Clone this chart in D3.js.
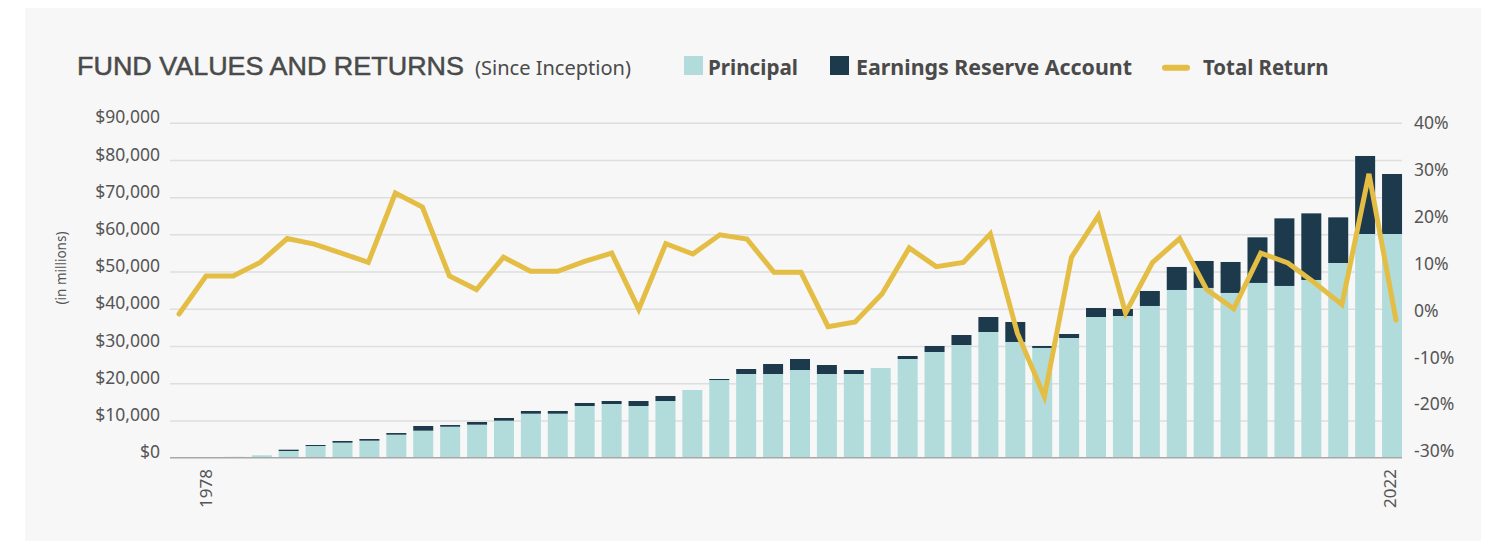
<!DOCTYPE html>
<html>
<head>
<meta charset="utf-8">
<script src="https://cdn.jsdelivr.net/npm/d3@7"></script>
<style>
  html, body { margin: 0; padding: 0; background: #ffffff; }
  svg { display: block; }
</style>
</head>
<body>
<svg id="chart" width="1492" height="541"></svg>
<script>
// ---------- DATA ----------
const years = d3.range(1978, 2023);           // bar categories
const principal = [150, 250, 650, 1800, 3140, 4040, 4570, 6180, 7260, 8330,
  8870, 9940, 11820, 11820, 13890, 14430, 13890, 15230, 18190, 20870,
  22490, 22490, 23560, 22490, 22490, 24100, 26520, 28400, 30280, 33770,
  31090, 29480, 32160, 37800, 38070, 40760, 45060, 45600, 44260, 46950,
  46140, 47750, 52310, 60100, 60100];
const earningsReserve = [0, 0, 0, 350, 270, 450, 450, 450, 1260, 450,
  720, 730, 730, 730, 810, 800, 1340, 1350, 0, 270,
  1340, 2680, 2960, 2410, 1070, 0, 800, 1610, 2680, 4030,
  5370, 530, 1070, 2420, 1880, 4030, 6180, 7250, 8320, 12250,
  18160, 17890, 12260, 20960, 16120];
const returnYears = d3.range(1977, 2023);
const totalReturn = [-0.2, 7.9, 7.9, 10.8, 15.9, 14.7, 12.8, 10.8, 25.6, 22.6,
  7.9, 5.0, 11.9, 8.9, 8.9, 11.0, 12.8, 0.8, 14.8, 12.6,
  16.7, 15.8, 8.7, 8.7, -2.9, -1.9, 4.1, 13.9, 9.9, 10.8,
  16.9, -4.3, -17.8, 11.9, 20.8, 0.0, 10.8, 15.9, 5.0, 0.9,
  12.8, 10.7, 6.4, 1.8, 29.7, -1.5];
const leftTicks = [0, 10000, 20000, 30000, 40000, 50000, 60000, 70000, 80000, 90000];
const rightTicks = [-30, -20, -10, 0, 10, 20, 30, 40];
const xLabels = [1978, 2022];
const seriesNames = ["Principal", "Earnings Reserve Account", "Total Return"];

// ---------- STYLE ----------
const C_PRINCIPAL = "#b2dcdb";
const C_ERA = "#1d3a4d";
const C_LINE = "#e4bd45";
const C_TEXT = "#4a4a4a";
const C_TICK = "#555555";

const svg = d3.select("#chart");

// panel background
svg.append("rect").attr("x", 25).attr("y", 8).attr("width", 1456).attr("height", 540)
  .attr("fill", "#f7f7f7");

// ---------- SCALES ----------
const plotLeft = 170, plotRight = 1402;
const yL = d3.scaleLinear().domain([0, 90000]).range([457.7, 122.7]);
const yR = d3.scaleLinear().domain([-30, 40]).range([453.6, 125.6]);
const x = d3.scaleBand().domain(years).range([194.5, 1405.5])
  .paddingInner(0.257).paddingOuter(0.1285);
const xLine = d3.scalePoint().domain(returnYears).range([179, 1396]);

// ---------- GRID (via axis) ----------
const grid = svg.append("g").attr("transform", `translate(${plotLeft},0)`)
  .call(d3.axisLeft(yL).tickValues(leftTicks.filter(d => d > 0))
    .tickSize(-(plotRight - plotLeft)).tickFormat(""));
grid.select(".domain").remove();
grid.selectAll(".tick line").attr("stroke", "#dedede").attr("stroke-width", 1.5);

// ---------- BARS ----------
const stackData = years.map((yr, i) => ({ year: yr, principal: principal[i], era: earningsReserve[i] }));
const stacked = d3.stack().keys(["principal", "era"])(stackData);
const colors = { principal: C_PRINCIPAL, era: C_ERA };
svg.append("g").selectAll("g").data(stacked).join("g")
  .attr("fill", d => colors[d.key])
  .selectAll("rect").data(d => d).join("rect")
  .attr("x", d => x(d.data.year))
  .attr("width", x.bandwidth())
  .attr("y", d => yL(d[1]))
  .attr("height", d => Math.max(0, yL(d[0]) - yL(d[1])));

// baseline
svg.append("line").attr("x1", plotLeft).attr("x2", plotRight)
  .attr("y1", yL(0)).attr("y2", yL(0))
  .attr("stroke", "#a8a8a8").attr("stroke-width", 1.5);

// ---------- LINE ----------
const line = d3.line().x((d, i) => xLine(returnYears[i])).y(d => yR(d));
svg.append("path").datum(totalReturn)
  .attr("d", line).attr("fill", "none")
  .attr("stroke", C_LINE).attr("stroke-width", 5)
  .attr("stroke-linejoin", "miter").attr("stroke-linecap", "round");

// ---------- AXES LABELS ----------
const fmtDollar = d => "$" + d3.format(",")(d);
const leftAxis = svg.append("g").attr("transform", `translate(${plotLeft},0)`)
  .call(d3.axisLeft(yL).tickValues(leftTicks).tickFormat(fmtDollar).tickSize(0).tickPadding(10));
leftAxis.select(".domain").remove();
leftAxis.selectAll("text")
  .attr("font-family", "'Noto Sans', sans-serif").attr("font-size", 17.5)
  .attr("fill", C_TICK).attr("dy", "0.35em").attr("y", -6);

const rightAxis = svg.append("g").attr("transform", `translate(${1414},0)`)
  .call(d3.axisRight(yR).tickValues(rightTicks).tickFormat(d => d + "%").tickSize(0).tickPadding(0));
rightAxis.select(".domain").remove();
rightAxis.selectAll("text")
  .attr("font-family", "'Noto Sans', sans-serif").attr("font-size", 17.5)
  .attr("fill", C_TICK).attr("dy", "0.35em").attr("y", -3);

// x labels
svg.append("g").selectAll("text").data(xLabels).join("text")
  .attr("transform", d => `translate(${x(d) + x.bandwidth() / 2 - 2},469) rotate(-90)`)
  .attr("text-anchor", "end").attr("dy", "0.35em")
  .attr("font-family", "'Noto Sans', sans-serif").attr("font-size", 17)
  .attr("fill", C_TICK).text(d => d);

// (in millions)
svg.append("text").attr("transform", "translate(61,268) rotate(-90)")
  .attr("text-anchor", "middle").attr("dy", "0.35em")
  .attr("font-family", "'Noto Sans', sans-serif").attr("font-size", 13.5)
  .attr("fill", C_TICK).text("(in millions)");

// ---------- TITLE ----------
svg.append("text").attr("x", 77).attr("y", 75)
  .attr("font-family", "'Liberation Sans', Arial, sans-serif").attr("font-size", 26.5)
  .attr("fill", C_TEXT).attr("stroke", C_TEXT).attr("stroke-width", 0.5)
  .attr("textLength", 387).attr("lengthAdjust", "spacingAndGlyphs")
  .text("FUND VALUES AND RETURNS");
svg.append("text").attr("x", 475).attr("y", 75)
  .attr("font-family", "'Noto Sans', sans-serif").attr("font-size", 19.5)
  .attr("fill", C_TEXT).attr("textLength", 156).attr("lengthAdjust", "spacingAndGlyphs")
  .text("(Since Inception)");

// ---------- LEGEND ----------
const legend = svg.append("g");
legend.append("rect").attr("x", 684).attr("y", 56).attr("width", 19).attr("height", 19).attr("fill", C_PRINCIPAL);
legend.append("text").attr("x", 708).attr("y", 75).text(seriesNames[0]).attr("textLength", 90);
legend.append("rect").attr("x", 830).attr("y", 56).attr("width", 19).attr("height", 19).attr("fill", C_ERA);
legend.append("text").attr("x", 856).attr("y", 75).text(seriesNames[1]).attr("textLength", 276);
legend.append("line").attr("x1", 1165).attr("x2", 1187).attr("y1", 67.7).attr("y2", 67.7)
  .attr("stroke", C_LINE).attr("stroke-width", 6).attr("stroke-linecap", "round");
legend.append("text").attr("x", 1203).attr("y", 75).text(seriesNames[2]).attr("textLength", 125.6);
legend.selectAll("text")
  .attr("font-family", "'Noto Sans', sans-serif").attr("font-size", 20.5).attr("font-weight", 700)
  .attr("fill", C_TEXT).attr("lengthAdjust", "spacingAndGlyphs");
</script>
</body>
</html>
